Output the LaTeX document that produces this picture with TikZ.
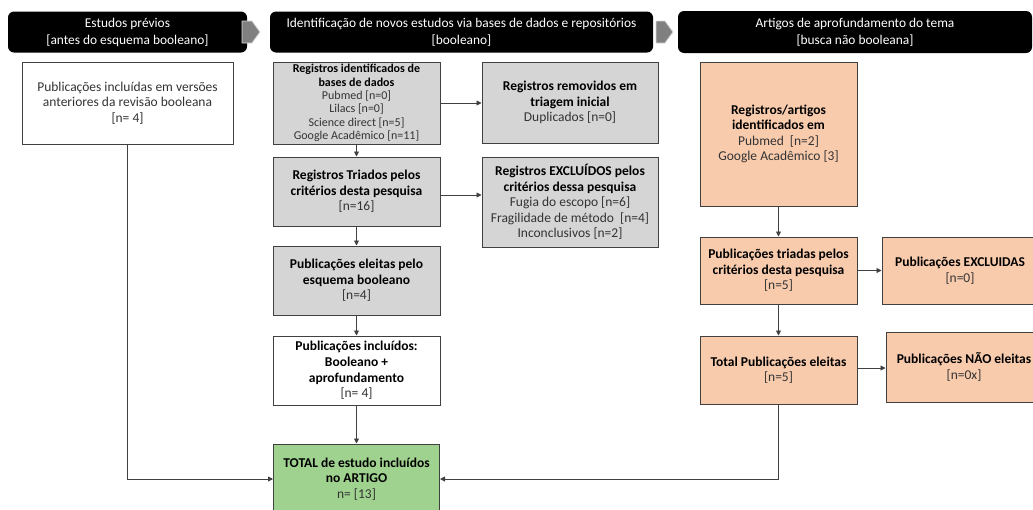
\documentclass[tikz,border=0pt]{standalone}
\usepackage{fontspec}
\setmainfont{Carlito}
\usetikzlibrary{arrows.meta}
\definecolor{bordc}{HTML}{404040}
\definecolor{grayf}{HTML}{D5D5D5}
\definecolor{orangef}{HTML}{F8CBAD}
\definecolor{greenf}{HTML}{9FD18F}
\definecolor{txtc}{HTML}{333333}
\definecolor{arrowf}{HTML}{808080}
\newcommand{\bx}[1]{\textbf{\color{black}#1}}
\tikzset{
  box/.style={draw=bordc, line width=1pt, align=center, inner sep=1pt, text=txtc,
    font=\fontsize{13.5}{15.6}\selectfont},
  graybox/.style={box, fill=grayf},
  whitebox/.style={box, fill=white},
  orangebox/.style={box, fill=orangef},
  greenbox/.style={box, fill=greenf},
  header/.style={fill=black, rounded corners=6pt, text=white, align=center,
    font=\fontsize{13.4}{17}\selectfont},
  conn/.style={draw=bordc, line width=0.9pt},
  arr/.style={conn, -{Triangle[length=5pt,width=5pt]}},
  hdrarrow/.style={fill=arrowf, draw=white!85!black, line width=0.8pt}
}
\begin{document}
\begin{tikzpicture}[x=1pt,y=-1pt]
\clip (0,0) rectangle (1033,509);
\fill[white] (0,0) rectangle (1033,509);

% headers
\node[header, minimum width=239pt, minimum height=41pt] (h1) at (127.5,32) {Estudos prévios\\{}[antes do esquema booleano]};
\node[header, minimum width=383pt, minimum height=41pt] (h2) at (461.5,32) {Identificação de novos estudos via bases de dados e repositórios\\{}[booleano]};
\node[header, minimum width=354pt, minimum height=42pt] (h3) at (855,32) {Artigos de aprofundamento do tema\\{}[busca não booleana]};
\draw[hdrarrow] (242,21) -- (252,21) -- (260,32) -- (252,43) -- (242,43) -- cycle;
\draw[hdrarrow] (656,21) -- (665,21) -- (673,32) -- (665,43) -- (656,43) -- cycle;

% left column
\node[whitebox, minimum width=211pt, minimum height=82pt] (a) at (127.5,103) {Publicações incluídas em versões\\anteriores da revisão booleana\\{}[n= 4]};

% middle column
\node[graybox, minimum width=167pt, minimum height=82pt, font=\fontsize{12}{13.3}\selectfont] (b1) at (356.5,103) {\bx{Registros identificados de}\\\bx{bases de dados}\\Pubmed [n=0]\\Lilacs [n=0]\\Science direct [n=5]\\Google Acadêmico [n=11]};
\node[graybox, minimum width=176pt, minimum height=81pt] (b2) at (570,102.5) {\bx{Registros removidos em}\\\bx{triagem inicial}\\Duplicados [n=0]};
\node[graybox, minimum width=167pt, minimum height=69pt] (b3) at (356.5,191.5) {\bx{Registros Triados pelos}\\\bx{critérios desta pesquisa}\\{}[n=16]};
\node[graybox, minimum width=176pt, minimum height=90pt] (b4) at (570,202) {\bx{Registros EXCLUÍDOS pelos}\\\bx{critérios dessa pesquisa}\\Fugia do escopo [n=6]\\Fragilidade de método\ \ [n=4]\\Inconclusivos [n=2]};
\node[graybox, minimum width=167pt, minimum height=69pt] (b5) at (356.5,280.5) {\bx{Publicações eleitas pelo}\\\bx{esquema booleano}\\{}[n=4]};
\node[whitebox, minimum width=167pt, minimum height=69pt] (b6) at (356.5,370.5) {\bx{Publicações incluídos:}\\\bx{Booleano +}\\\bx{aprofundamento}\\{}[n= 4]};
\node[greenbox, minimum width=166pt, minimum height=70pt] (b7) at (356.5,479) {\bx{TOTAL de estudo incluídos}\\\bx{no ARTIGO}\\n= [13]};

% right column
\node[orangebox, minimum width=157pt, minimum height=144pt] (c1) at (778.5,134) {\bx{Registros/artigos}\\\bx{identificados em}\\Pubmed\ \ [n=2]\\Google Acadêmico [3]};
\node[orangebox, minimum width=157pt, minimum height=67pt] (c2) at (778.5,270.5) {\bx{Publicações triadas pelos}\\\bx{critérios desta pesquisa}\\{}[n=5]};
\node[orangebox, minimum width=156pt, minimum height=67pt] (c3) at (960,270.5) {\bx{Publicações EXCLUIDAS}\\{}[n=0]};
\node[orangebox, minimum width=157pt, minimum height=68pt] (c4) at (778.5,370) {\bx{Total Publicações eleitas}\\{}[n=5]};
\node[orangebox, minimum width=156pt, minimum height=70pt] (c5) at (964,367) {\bx{Publicações NÃO eleitas}\\{}[n=0x]};

% connectors
\draw[arr] (b1.east |- 0,103) -- (b2.west |- 0,103);
\draw[arr] (b1) -- (b3);
\draw[arr] (b3.east |- 0,195) -- (b4.west |- 0,195);
\draw[arr] (b3) -- (b5);
\draw[arr] (b5) -- (b6);
\draw[arr] (b6) -- (b7);
\draw[arr] (c1) -- (c2);
\draw[arr] (c2) -- (c3);
\draw[arr] (c4.east |- 0,368) -- (c5.west |- 0,368);
\draw[arr] (c2) -- (c4);
\coordinate (lc) at (a.south |- 0,479);
\coordinate (rc) at (c4.south |- 0,479);
\draw[arr] (a.south) -- (lc) -- (b7.west |- lc);
\draw[arr] (c4.south) -- (rc) -- (b7.east |- rc);
\end{tikzpicture}
\end{document}
